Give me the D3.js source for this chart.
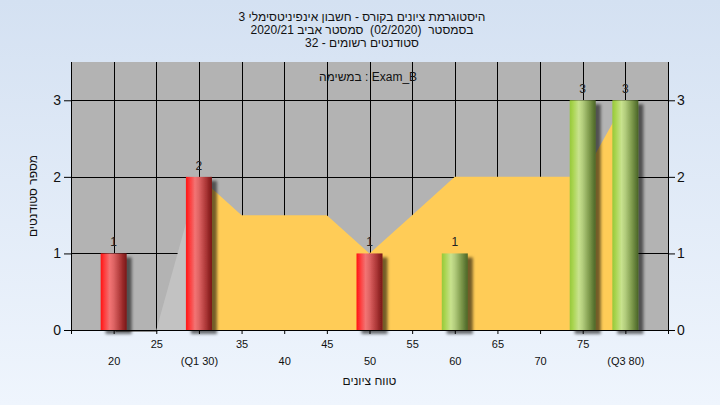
<!DOCTYPE html>
<html><head><meta charset="utf-8">
<script src="https://cdn.jsdelivr.net/npm/d3@7"></script>
<style>
html,body{margin:0;padding:0;overflow:hidden;}
svg{display:block;font-family:"Liberation Sans",Arial,"DejaVu Sans",sans-serif;}
</style></head>
<body>
<svg id="chart" width="720" height="405"></svg>
<script>
// ---- data ----
const categories = [20,25,30,35,40,45,50,55,60,65,70,75,80];
const tickLabels = ["20","25","(Q1 30)","35","40","45","50","55","60","65","70","75","(Q3 80)"];
const counts = [1,0,2,0,0,0,1,0,1,0,0,3,3];
const curveValues = [0,0,2,1.5,1.5,1.5,1,1.5,2,2,2,2,3];
const yTicks = [0,1,2,3];
const q1 = 30, q3 = 80;
const passMark = 55;
const titleLines = [
  "היסטוגרמת ציונים בקורס - חשבון אינפיניטסימלי 3",
  "בסמסטר  (02/2020)  סמסטר אביב 2020/21",
  "סטודנטים רשומים - 32"
];
const legendText = "במשימה : Exam_B";
const xTitle = "טווח ציונים";
const yTitle = "מספר סטודנטים";

// ---- layout ----
const W = 720, H = 405;
const P = {l:71, r:668, t:62, b:330};
const svg = d3.select("#chart");
const x = d3.scaleLinear().domain([15,85]).range([P.l,P.r]);
const y = d3.scaleLinear().domain([0,3.5]).range([P.b,P.t]);
const barW = 26;

const defs = svg.append("defs");
const bg = defs.append("linearGradient").attr("id","bg").attr("x1",0).attr("y1",0).attr("x2",0).attr("y2",1);
bg.append("stop").attr("offset","0%").attr("stop-color","#D4E1F2");
bg.append("stop").attr("offset","100%").attr("stop-color","#EFF5FD");
function grad(id, stops){
  const g = defs.append("linearGradient").attr("id",id).attr("x1",0).attr("y1",0).attr("x2",1).attr("y2",0);
  stops.forEach(s=>g.append("stop").attr("offset",s[0]).attr("stop-color",s[1]));
}
grad("red",[["0%","#FF1414"],["12%","#FF3434"],["35%","#F27474"],["50%","#DE6464"],["75%","#B03A3A"],["100%","#781414"]]);
grad("green",[["0%","#96C83A"],["12%","#A8D44E"],["35%","#C8E28E"],["50%","#B2CC7C"],["75%","#7E9A4C"],["100%","#4A6426"]]);
const f = defs.append("filter").attr("id","shadow").attr("x","-20%").attr("y","-10%").attr("width","160%").attr("height","130%");
f.append("feDropShadow").attr("dx",5).attr("dy",4).attr("stdDeviation",1.8).attr("flood-color","#000").attr("flood-opacity",0.55);

svg.append("rect").attr("width",W).attr("height",H).attr("fill","url(#bg)");

// titles
svg.append("g").selectAll("text").data(titleLines).join("text")
  .attr("x",362).attr("y",(d,i)=>21+i*13)
  .attr("direction","rtl").attr("text-anchor","middle")
  .style("white-space","pre")
  .attr("font-size",12).attr("fill","#111").text(d=>d);

// plot background
svg.append("rect").attr("x",P.l).attr("y",P.t).attr("width",P.r-P.l).attr("height",P.b-P.t).attr("fill","#B3B3B3");

// gridlines
const grid = svg.append("g").attr("stroke","#000").attr("stroke-width",1);
grid.selectAll(".hg").data(yTicks.filter(v=>v>0)).join("line")
  .attr("x1",P.l).attr("x2",P.r).attr("y1",d=>Math.round(y(d))+0.5).attr("y2",d=>Math.round(y(d))+0.5);
grid.selectAll(".vg").data(categories).join("line")
  .attr("y1",P.t).attr("y2",P.b).attr("x1",d=>Math.round(x(d))+0.5).attr("x2",d=>Math.round(x(d))+0.5);

// curve area
const pts = categories.map((c,i)=>({c, v:curveValues[i]}));
const area = d3.area().x(d=>x(d.c)).y0(y(0)).y1(d=>y(d.v));
svg.append("path").datum(pts.filter(d=>d.c<=q1)).attr("d",area).attr("fill","#C2C2C2");
svg.append("path").datum(pts.filter(d=>d.c>=q1 && d.c<=q3)).attr("d",area).attr("fill","#FFCC57");
// shadow of zero-level segments
const zeroSegs = pts.slice(0,-1).map((d,i)=>[d,pts[i+1]]).filter(s=>s[0].v===0 && s[1].v===0);
svg.append("g").selectAll("line").data(zeroSegs).join("line")
  .attr("x1",s=>x(s[0].c)+2).attr("x2",s=>x(s[1].c)+1)
  .attr("y1",y(0)+1.5).attr("y2",y(0)+1.5).attr("stroke","#8C8C8C").attr("stroke-width",1);

// axes
const axB = svg.append("g").attr("transform",`translate(0,${P.b})`)
  .call(d3.axisBottom(x).tickValues(d3.range(15,86,5)).tickSize(4).tickSizeOuter(0)
    .tickFormat(v=>{const i=categories.indexOf(v);return i<0?"":tickLabels[i];}));
axB.select(".domain").attr("stroke","#000");
axB.selectAll("text").attr("font-size",11).attr("fill","#111").attr("font-family",null)
  .attr("y",v=>(categories.indexOf(v)%2===1)?10:27);
axB.selectAll(".tick line").attr("stroke","#000");

const axL = svg.append("g").attr("transform",`translate(${P.l},0)`)
  .call(d3.axisLeft(y).tickValues(yTicks).tickFormat(d3.format("d")).tickSize(7).tickPadding(3).tickSizeOuter(0));
const axR = svg.append("g").attr("transform",`translate(${P.r},0)`)
  .call(d3.axisRight(y).tickValues(yTicks).tickFormat(d3.format("d")).tickSize(7).tickPadding(2).tickSizeOuter(0));
[axL,axR].forEach(a=>{
  a.select(".domain").attr("stroke","#000").attr("d",`M0.5,${P.t}V${P.b}`);
  a.selectAll("text").attr("font-size",14).attr("fill","#111").attr("font-family",null);
  a.selectAll(".tick line").attr("stroke","#000");
});

// bars
const bars = categories.map((c,i)=>({c, n:counts[i]})).filter(d=>d.n>0);
svg.append("g").selectAll("rect").data(bars).join("rect")
  .attr("x",d=>x(d.c)-barW/2).attr("width",barW)
  .attr("y",d=>y(d.n)).attr("height",d=>y(0)-y(d.n))
  .attr("fill",d=>d.c<passMark?"url(#red)":"url(#green)")
  .attr("filter","url(#shadow)");
svg.append("g").selectAll("text").data(bars).join("text")
  .attr("x",d=>x(d.c)).attr("y",d=>y(d.n)-7).attr("text-anchor","middle")
  .attr("font-size",12).attr("fill","#222").text(d=>d.n);

// legend text
svg.append("text").attr("x",368).attr("y",81).attr("text-anchor","middle")
  .attr("font-size",12).attr("fill","#111").text(legendText);

// axis titles
svg.append("text").attr("x",(P.l+P.r)/2).attr("y",385).attr("text-anchor","middle")
  .attr("font-size",12).attr("fill","#111").text(xTitle);
svg.append("text").attr("transform",`translate(37,${(P.t+P.b)/2}) rotate(-90)`)
  .attr("text-anchor","middle").attr("font-size",12).attr("fill","#111").text(yTitle);
</script>
</body></html>
